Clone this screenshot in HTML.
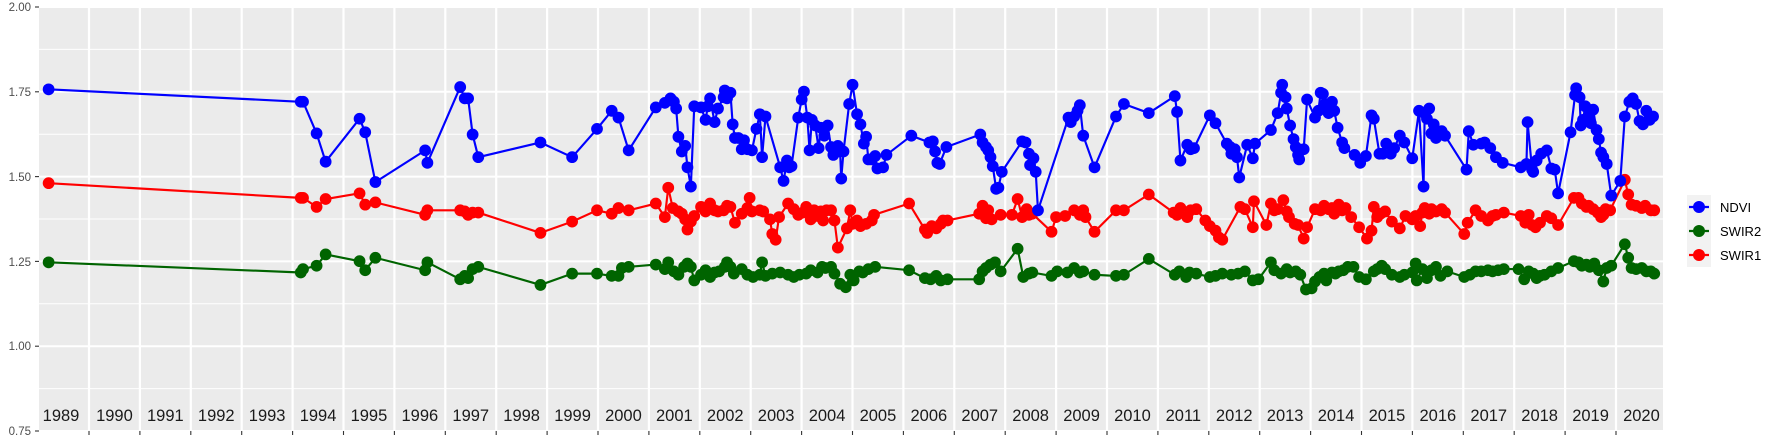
<!DOCTYPE html>
<html><head><meta charset="utf-8">
<style>html,body{margin:0;padding:0;background:#fff;}svg{display:block;font-family:"Liberation Sans",sans-serif;}</style>
</head><body>
<svg id="s" width="1773" height="442" xmlns="http://www.w3.org/2000/svg">
<rect x="39" y="7" width="1624" height="424" fill="#EBEBEB"/>
<g id="grid"></g>
<g id="labels" font-size="11.5" fill="#4D4D4D" text-anchor="end">
<text x="31" y="11">2.00</text><text x="31" y="96">1.75</text><text x="31" y="181">1.50</text>
<text x="31" y="266">1.25</text><text x="31" y="350">1.00</text><text x="31" y="435">0.75</text>
</g>
<g stroke="#333" stroke-width="1.1">
<line x1="35" x2="39" y1="7" y2="7"/><line x1="35" x2="39" y1="91.8" y2="91.8"/><line x1="35" x2="39" y1="176.6" y2="176.6"/>
<line x1="35" x2="39" y1="261.4" y2="261.4"/><line x1="35" x2="39" y1="346.2" y2="346.2"/><line x1="35" x2="39" y1="431" y2="431"/>
</g>
<g id="years" font-size="16.5" fill="#1a1a1a" text-anchor="middle"></g>
<g id="data" transform="scale(1.1307)"></g>
<rect x="1687" y="195" width="24" height="72" fill="#F2F2F2"/>
<g stroke-width="2.2">
<line x1="1689" x2="1709" y1="207" y2="207" stroke="#0000FF"/><circle cx="1699" cy="207" r="6" fill="#0000FF"/>
<line x1="1689" x2="1709" y1="231" y2="231" stroke="#006400"/><circle cx="1699" cy="231" r="6" fill="#006400"/>
<line x1="1689" x2="1709" y1="255" y2="255" stroke="#FF0000"/><circle cx="1699" cy="255" r="6" fill="#FF0000"/>
</g>
<g font-size="13" fill="#000"><text x="1720" y="212">NDVI</text><text x="1720" y="236">SWIR2</text><text x="1720" y="260">SWIR1</text></g>
</svg>
<script>
const NS="http://www.w3.org/2000/svg";
function el(t,a,p){const e=document.createElementNS(NS,t);for(const k in a)e.setAttribute(k,a[k]);p.appendChild(e);return e;}
const g=document.getElementById('grid');
[49.4,134.2,219,303.8,388.6].forEach(y=>el('line',{x1:39,x2:1663,y1:y,y2:y,stroke:'#fff','stroke-width':1},g));
[7,91.8,176.6,261.4,346.2,431].forEach(y=>el('line',{x1:39,x2:1663,y1:y,y2:y,stroke:'#fff','stroke-width':2},g));
const yr=document.getElementById('years');const s=document.getElementById('s');
for(let k=0;k<31;k++){const x=89+k*50.9;el('line',{x1:x,x2:x,y1:7,y2:431,stroke:'#fff','stroke-width':2.2},g);
el('line',{x1:x,x2:x,y1:431,y2:435,stroke:'#333','stroke-width':1.1},s);}
for(let k=0;k<32;k++){const x=k==0?61:89+(k-1)*50.9+25.45;const t=el('text',{x:x,y:421},yr);t.textContent=1989+k;}
const nd=[43,79,266,90,268,90,280,118,288,143,318,105,323,117,332,161,376,133,378,144,407,77,411,87,414,87,418,119,423,139,478,126,506,139,528,114,541,98,547,104,556,133,580,95,588,91,593,87,596,90,598,96,600,121,603,134,606,129,608,148,611,165,614,94,620,95,624,106,626,94,628,87,632,108,635,96,640,86,641,80,643,87,646,82,648,110,650,122,653,122,656,132,658,124,661,132,665,133,669,114,672,101,674,139,677,103,690,148,693,160,696,142,698,148,700,147,706,104,709,88,711,81,714,104,716,133,718,106,721,111,724,131,726,113,729,120,732,111,735,130,737,137,741,129,743,134,744,158,746,134,751,92,754,75,758,101,761,110,764,127,766,121,768,141,771,141,774,138,776,149,781,148,784,137,806,120,822,126,825,125,827,134,829,144,831,145,837,130,867,119,869,126,872,130,874,133,876,139,878,147,881,167,883,166,886,152,904,125,907,126,910,136,911,146,914,140,916,152,918,186,945,104,947,108,950,103,953,98,955,93,958,120,968,148,987,103,994,92,1016,100,1039,85,1041,99,1044,142,1050,128,1053,132,1056,131,1070,102,1075,109,1085,127,1088,130,1089,136,1092,132,1094,139,1096,157,1103,128,1108,140,1110,127,1124,115,1130,100,1133,82,1134,75,1137,86,1138,96,1141,111,1144,123,1146,130,1148,137,1149,141,1153,132,1156,88,1163,104,1166,98,1168,82,1170,83,1172,92,1175,100,1178,90,1180,98,1183,113,1187,126,1189,131,1198,137,1203,144,1208,138,1213,102,1215,105,1220,136,1223,136,1226,127,1230,136,1233,131,1238,120,1242,126,1249,140,1255,98,1259,165,1260,100,1262,105,1264,96,1266,118,1268,110,1270,122,1275,116,1278,120,1297,150,1299,116,1303,128,1310,127,1313,126,1318,131,1323,139,1329,144,1345,148,1350,145,1351,108,1355,150,1356,152,1359,142,1363,136,1368,133,1372,149,1375,150,1378,171,1389,117,1393,84,1394,78,1397,86,1398,111,1400,106,1402,94,1405,103,1407,109,1409,97,1412,115,1414,123,1416,135,1418,139,1421,145,1425,173,1433,160,1437,103,1441,90,1444,87,1447,92,1450,107,1453,110,1456,98,1459,106,1462,103];
const s1=[43,162,266,175,268,175,280,183,288,176,318,171,323,181,332,179,376,190,378,186,407,186,411,187,414,190,418,188,423,188,478,206,506,196,528,186,541,189,547,184,556,186,580,180,588,192,591,166,595,184,600,187,603,189,606,194,608,203,611,196,614,191,620,183,624,187,628,180,632,186,635,187,640,186,643,182,646,183,650,197,656,189,661,184,663,175,665,187,672,186,675,187,681,194,683,207,686,212,689,192,697,180,702,185,706,190,710,188,713,183,717,194,720,186,723,191,726,187,728,195,731,186,735,186,738,195,741,219,749,202,752,186,754,198,758,195,761,200,766,198,771,195,773,190,804,180,818,203,820,206,824,200,828,202,832,198,834,195,838,195,866,189,869,182,872,193,874,186,877,194,885,190,895,190,900,176,904,192,908,185,910,190,913,189,930,205,934,192,942,191,950,186,955,190,958,186,960,192,968,205,987,186,994,186,1016,172,1038,188,1041,190,1044,184,1050,192,1053,186,1058,185,1066,195,1070,200,1075,204,1078,210,1081,212,1097,183,1101,185,1108,201,1109,178,1120,199,1124,180,1127,186,1130,185,1135,177,1138,187,1140,192,1145,198,1148,199,1153,211,1156,201,1163,185,1168,186,1171,182,1175,185,1178,184,1180,189,1184,181,1187,186,1190,184,1195,192,1202,201,1209,211,1213,204,1215,183,1218,192,1221,189,1225,187,1231,196,1238,202,1243,191,1249,194,1252,191,1256,200,1258,188,1260,184,1264,189,1266,185,1270,187,1275,185,1278,188,1295,207,1298,197,1305,186,1310,191,1316,195,1320,191,1323,190,1330,188,1345,191,1349,197,1352,190,1355,199,1358,201,1362,197,1368,191,1372,193,1378,199,1392,175,1396,175,1399,180,1403,183,1405,182,1409,185,1413,188,1416,192,1418,190,1420,185,1424,186,1437,159,1440,172,1443,181,1447,182,1452,184,1455,182,1460,186,1463,186];
const s2=[43,232,266,241,268,238,280,235,288,225,318,231,323,239,332,228,376,239,378,232,407,247,411,244,414,246,418,238,423,236,478,252,506,242,528,242,541,244,547,244,550,237,556,236,580,234,588,238,591,232,596,240,600,243,605,236,608,233,611,236,614,248,620,243,624,239,628,245,632,241,636,240,641,236,643,232,646,236,649,242,656,238,661,243,666,245,672,243,674,232,677,244,683,242,690,241,697,243,702,245,707,243,713,242,717,239,723,241,727,236,730,237,735,236,738,242,743,251,748,254,752,243,755,248,760,240,763,241,768,238,774,236,804,239,818,246,823,247,828,244,832,248,838,247,866,247,869,240,872,237,876,234,880,232,885,240,900,220,905,245,910,242,913,241,930,244,935,240,944,241,950,237,955,241,958,240,968,243,987,244,994,243,1016,229,1039,243,1043,240,1049,245,1052,241,1058,242,1070,245,1075,244,1081,242,1089,243,1095,242,1101,240,1108,248,1113,247,1124,232,1127,239,1133,242,1138,238,1141,241,1146,240,1150,243,1155,256,1160,255,1163,249,1167,245,1171,242,1173,248,1178,241,1181,242,1184,240,1188,239,1192,236,1197,236,1202,245,1208,247,1215,240,1218,238,1222,235,1225,238,1231,243,1238,245,1242,243,1249,241,1252,233,1253,248,1258,238,1262,246,1266,239,1270,236,1274,244,1280,240,1295,245,1300,243,1305,240,1310,240,1316,239,1320,240,1325,239,1330,238,1343,238,1348,247,1352,240,1356,242,1359,246,1362,244,1366,243,1372,240,1378,237,1392,231,1396,232,1399,235,1403,234,1406,236,1410,233,1414,239,1418,249,1421,237,1425,235,1437,216,1440,228,1443,237,1447,238,1452,237,1456,240,1460,240,1463,242];
const d=document.getElementById('data');
function series(a,c){let p='';for(let i=0;i<a.length;i+=2)p+=(i?'L':'M')+a[i]+','+a[i+1];
el('path',{d:p,fill:'none',stroke:c,'stroke-width':1.9,'stroke-linejoin':'round'},d);
for(let i=0;i<a.length;i+=2)el('circle',{cx:a[i],cy:a[i+1],r:5.2,fill:c},d);}
series(s2,'#006400');series(s1,'#FF0000');series(nd,'#0000FF');
</script>
</body></html>
